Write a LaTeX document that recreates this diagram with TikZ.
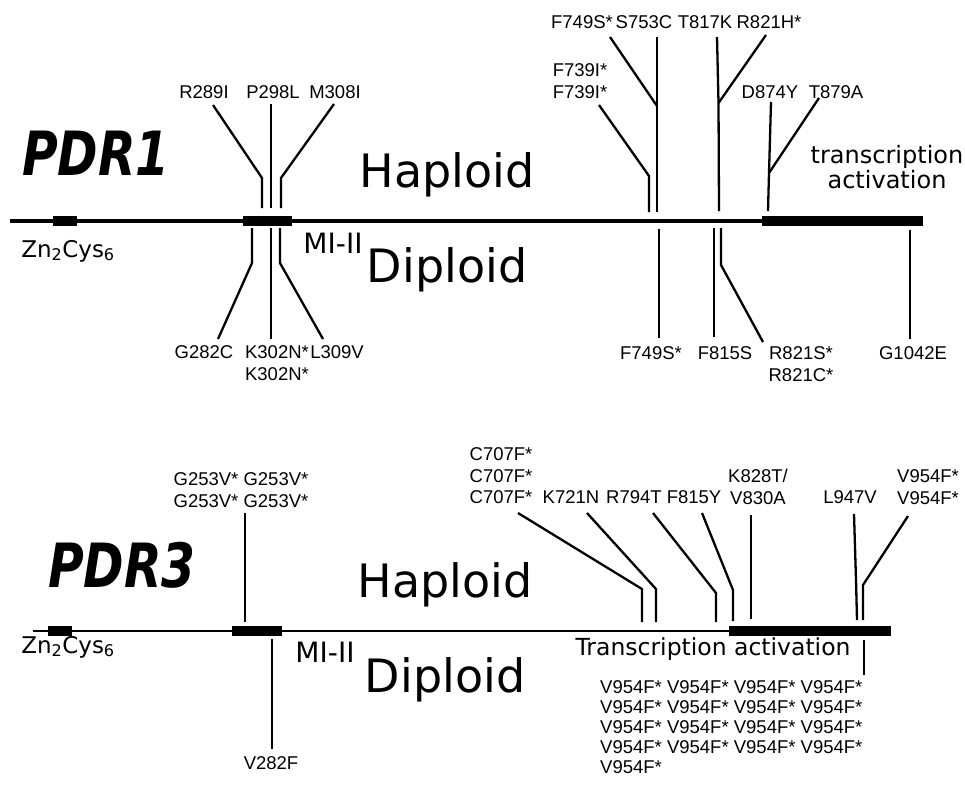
\documentclass[tikz,border=0pt]{standalone}
\usepackage{fontspec}
\setmainfont{Liberation Sans}
\newfontfamily\handfont{DejaVu Sans}
\newfontfamily\genefont[FakeStretch=0.8]{DejaVu Sans}
\begin{document}
\begin{tikzpicture}[x=1pt, y=-1pt, font=\fontsize{18.5}{21.5}\selectfont,
  mut/.style={line width=2.3pt},
  dom/.style={fill=black, inner sep=0pt, minimum height=9.5pt},
  lbl/.style={align=center, inner sep=0pt},
  hand/.style={font=\handfont\fontsize{#1}{#1}\selectfont, inner sep=0pt, anchor=base},
  gene/.style={font=\genefont\bfseries\itshape\fontsize{61}{61}\selectfont, inner sep=0pt, anchor=base}]
  \useasboundingbox (0,0) rectangle (965,785);

  % PDR1
  \coordinate (g1w) at (10,221); \coordinate (g1e) at (923,221);
  \draw[line width=3.2pt] (g1w) -- (g1e);
  \node[dom, minimum width=24pt] (zn1) at (65,221) {};
  \node[dom, minimum width=49pt] (mi1) at (267.5,221) {};
  \node[dom, minimum width=161pt, anchor=east] (ta1) at (g1e) {};
  \node[gene] (pdr1) at (96,175) {PDR1};
  \node[hand=23] (zn1lab) at (68,257) {Zn\textsubscript{2}Cys\textsubscript{6}};
  \node[hand=28] (mi1lab) at (333,253) {MI-II};
  \node[hand=46] (hap1) at (447,187) {Haploid};
  \node[hand=46] (dip1) at (447,282) {Diploid};
  \node[hand=24, anchor=center, align=center, font=\handfont\fontsize{24}{22}\selectfont] (ta1lab) at (887,167) {transcription\\activation};

  % PDR3
  \coordinate (g3w) at (33,631); \coordinate (g3e) at (891,631);
  \draw[line width=1.8pt] (g3w) -- (g3e);
  \node[dom, minimum width=24pt] (zn3) at (60,631) {};
  \node[dom, minimum width=50pt] (mi3) at (257,631) {};
  \node[dom, minimum width=162pt, anchor=east] (ta3) at (g3e) {};
  \node[gene] (pdr3) at (122,587) {PDR3};
  \node[hand=23] (zn3lab) at (68,653) {Zn\textsubscript{2}Cys\textsubscript{6}};
  \node[hand=28] (mi3lab) at (325,662) {MI-II};
  \node[hand=46] (hap3) at (445,597) {Haploid};
  \node[hand=46] (dip3) at (445,692) {Diploid};
  \node[hand=23.5] (ta3lab) at (713,655) {Transcription activation};

  % mutation lines: name / top / bend / foot
  \foreach \m/\ax/\ay/\bx/\by/\cx/\cy in {
      r289/213/105/262/178/262/208, p298/271/104/271/150/271/208,
      m308/334/104/281/178/281/208, f739/599/105/649/176/649/212,
      s753/657/37/657/106/657/212, t817/717/37/718.5/103/719/211,
      d874/771/102/769/173/768/211,
      g282/252/228/252/263/218/339, k302/271/228/271/263/271/339,
      l309/280/228/280/263/323/339, f749d/659/229/659/280/659/338,
      f815s/714/228/714/280/714/337, r821s/721/228/721/265/763/342,
      g1042/910/230/910/280/910/339,
      g253/245/513/245/580/245/622, c707/518/513/642/589/642/622,
      k721/587/513/656/589/656/622, r794/653/513/716/593/716/622,
      f815y/702/513/733/590/733/621, k828/751/515/751/580/751/619,
      l947/854/514/856/580/857/620, v954h/908/516/863/585/863/620,
      v282/272/639/272/700/272/749, v954d/864/640/864/660/864/675} {
    \coordinate (t\m) at (\ax,\ay);
    \coordinate (k\m) at (\bx,\by);
    \coordinate (f\m) at (\cx,\cy);
    \draw[mut] (t\m) -- (k\m) -- (f\m);
  }
  % branches joining a shared stem
  \coordinate (tf749) at (610,37);
  \coordinate (tr821h) at (766,35);
  \coordinate (tt879) at (819,98);
  \draw[mut] (tf749) -- (ks753);
  \draw[mut] (tr821h) -- (kt817);
  \draw[mut] (tt879) -- (kd874);

  % mutation labels
  \foreach \m/\x/\y/\txt in {r289/204/92/R289I, p298/273/92/P298L, m308/335/92/M308I,
      f739/580/81/{F739I*\\F739I*}, f749/582/22/F749S*, s753/644/22/S753C, t817/705/22/T817K,
      r821h/769/22/R821H*, d874/770/92/D874Y, t879/836/92/T879A,
      g282/204/352/G282C, k302/277/363/{K302N*\\K302N*}, l309/337/352/L309V,
      f749d/651/353/F749S*, f815s/725/353/F815S, r821s/801/364/{R821S*\\R821C*}, g1042/913/353/G1042E,
      g253/241/490/{G253V* G253V*\\G253V* G253V*}, c707/501/476/{C707F*\\C707F*\\C707F*},
      k721/571/497/K721N, r794/634/497/R794T, f815y/694/497/F815Y, l947/850/497/L947V,
      v954h/928/487/{V954F*\\V954F*}, v282/271/763/V282F} {
    \node[lbl] (l\m) at (\x,\y) {\txt};
  }
  \node[lbl] (lk828) at (758,487) {K828T/\\V830A};
  \node[lbl, align=left, anchor=west, font=\fontsize{18.5}{20}\selectfont] (lv954d) at (600,727)
    {V954F* V954F* V954F* V954F*\\V954F* V954F* V954F* V954F*\\V954F* V954F* V954F* V954F*\\V954F* V954F* V954F* V954F*\\V954F*};
\end{tikzpicture}
\end{document}
